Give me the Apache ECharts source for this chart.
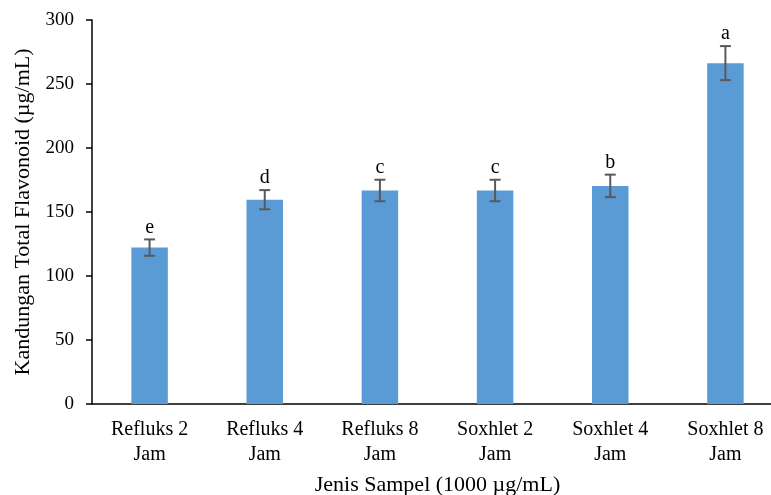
<!DOCTYPE html>
<html>
<head>
<meta charset="utf-8">
<script src="https://cdn.jsdelivr.net/npm/echarts@6/dist/echarts.min.js"></script>
<style>
  html, body { margin: 0; padding: 0; background: #fff; }
  #chart { width: 771px; height: 495px; }
</style>
</head>
<body>
<div id="chart"></div>
<script>
// Total flavonoid content per extraction method and duration
const categories = ['Refluks 2\nJam', 'Refluks 4\nJam', 'Refluks 8\nJam', 'Soxhlet 2\nJam', 'Soxhlet 4\nJam', 'Soxhlet 8\nJam'];
const means = [122.2, 159.6, 166.8, 166.8, 170.4, 266.3];
const errors = [6.4, 7.5, 8.4, 8.4, 8.8, 13.3];
const groupLetters = ['e', 'd', 'c', 'c', 'b', 'a'];
const yTicks = { min: 0, max: 300, interval: 50 };

const serif = '"Liberation Serif", "Times New Roman", serif';
const chart = echarts.init(document.getElementById('chart'), null, { renderer: 'canvas' });

const errData = means.map((m, i) => [i, m, errors[i]]);

chart.setOption({
  animation: false,
  backgroundColor: '#ffffff',
  grid: { left: 92, top: 20, width: 691, height: 384, containLabel: false, outerBoundsMode: 'none' },
  xAxis: {
    type: 'category',
    data: categories,
    name: 'Jenis Sampel (1000 µg/mL)',
    nameLocation: 'middle',
    nameGap: 70,
    nameTextStyle: { fontFamily: serif, fontSize: 22, color: '#000' },
    axisLine: { show: true, lineStyle: { color: '#000', width: 1.5 } },
    axisTick: { show: false },
    axisLabel: { fontFamily: serif, fontSize: 20, color: '#000', lineHeight: 25, margin: 13, interval: 0 },
    splitLine: { show: false }
  },
  yAxis: {
    type: 'value',
    min: yTicks.min,
    max: yTicks.max,
    interval: yTicks.interval,
    name: 'Kandungan Total Flavonoid (µg/mL)',
    nameLocation: 'middle',
    nameGap: 57,
    nameTextStyle: { fontFamily: serif, fontSize: 22, color: '#000' },
    axisLine: { show: true, lineStyle: { color: '#000', width: 1.5 } },
    axisTick: { show: true, inside: false, length: 6, lineStyle: { color: '#000', width: 1.5 } },
    axisLabel: { fontFamily: serif, fontSize: 19, color: '#000', margin: 18 },
    splitLine: { show: false }
  },
  series: [
    {
      type: 'bar',
      data: means,
      barWidth: '31.7%',
      itemStyle: { color: '#5B9BD5' },
      z: 2
    },
    {
      type: 'custom',
      data: errData,
      z: 5,
      renderItem: function (params, api) {
        const x = api.value(0);
        const m = api.value(1);
        const e = api.value(2);
        const letter = groupLetters[params.dataIndex];
        const top = api.coord([x, m + e]);
        const bot = api.coord([x, m - e]);
        const half = 5.5;
        const style = { stroke: '#595959', lineWidth: 2 };
        return {
          type: 'group',
          children: [
            { type: 'line', shape: { x1: top[0], y1: top[1], x2: bot[0], y2: bot[1] }, style: style },
            { type: 'line', shape: { x1: top[0] - half, y1: top[1], x2: top[0] + half, y2: top[1] }, style: style },
            { type: 'line', shape: { x1: bot[0] - half, y1: bot[1], x2: bot[0] + half, y2: bot[1] }, style: style },
            {
              type: 'text',
              x: top[0],
              y: top[1] - 2,
              style: {
                text: letter,
                fontFamily: serif,
                fontSize: 20,
                fill: '#000',
                align: 'center',
                verticalAlign: 'bottom'
              }
            }
          ]
        };
      }
    }
  ]
});
</script>
</body>
</html>
